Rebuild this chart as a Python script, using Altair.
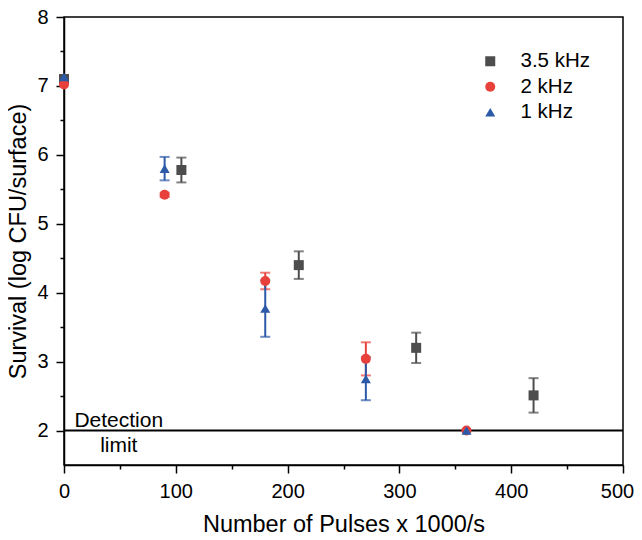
import altair as alt
import pandas as pd

series_names = ["3.5 kHz", "2 kHz", "1 kHz"]
colors = ["#4d4d4d", "#e8403b", "#2c5aa8"]
shapes = ["square", "circle", "triangle-up"]
marker_sizes = [100, 100, 135]

x_35 = [0, 105, 210, 315, 420]
y_35 = [7.1, 5.78, 4.40, 3.20, 2.51]
e_35 = [0.0, 0.18, 0.20, 0.22, 0.25]

x_2 = [0, 90, 180, 270, 360]
y_2 = [7.02, 5.42, 4.17, 3.04, 2.0]
e_2 = [0.0, 0.03, 0.12, 0.24, 0.0]

x_1 = [0, 90, 180, 270, 360]
y_1 = [7.13, 5.80, 3.77, 2.75, 2.0]
e_1 = [0.0, 0.17, 0.41, 0.31, 0.0]

rows = []
for name, xs, ys, es in [(series_names[0], x_35, y_35, e_35),
                         (series_names[1], x_2, y_2, e_2),
                         (series_names[2], x_1, y_1, e_1)]:
    for x, y, e in zip(xs, ys, es):
        rows.append({"series": name, "order": series_names.index(name),
                     "x": x, "y": y, "lo": y - e, "hi": y + e})
df = pd.DataFrame(rows)

FONT = "Liberation Sans"

xscale = alt.Scale(domain=[0, 500], nice=False)
yscale = alt.Scale(domain=[1.5, 8], nice=False, zero=False)

x_ticks = list(range(0, 501, 50))
y_ticks = [2 + 0.5 * i for i in range(13)]

common = dict(grid=False, domainColor="black", tickColor="black",
              domainWidth=1.5, tickWidth=1.5, labelFontSize=20, titleFontSize=23.5,
              labelColor="black", titleColor="black", labelFont=FONT, titleFont=FONT,
              titleFontWeight="normal", labelPadding=8, labelFlush=False)

xaxis = alt.Axis(title="Number of Pulses x 1000/s", values=x_ticks,
                 labelExpr="datum.value % 100 === 0 ? format(datum.value, 'd') : ''",
                 tickSize=alt.expr("datum.value % 100 === 0 ? 8 : 4"),
                 labelOffset=alt.expr("datum.value === 500 ? -6 : 0"),
                 titlePadding=11, **common)
yaxis = alt.Axis(title="Survival (log CFU/surface)", values=y_ticks,
                 labelExpr="datum.value % 1 === 0 ? format(datum.value, 'd') : ''",
                 tickSize=alt.expr("datum.value % 1 === 0 ? 8 : 4"),
                 titlePadding=6, **common)

X = lambda f: alt.X(f, scale=xscale, axis=xaxis)
Y = lambda f: alt.Y(f, scale=yscale, axis=yaxis)

color_scale = alt.Scale(domain=series_names, range=colors)
shape_scale = alt.Scale(domain=series_names, range=shapes)
size_scale = alt.Scale(domain=series_names, range=marker_sizes)

limit_df = pd.DataFrame({"x": [0], "x2": [500], "y": [2.0]})
limit = alt.Chart(limit_df).mark_rule(color="black", strokeWidth=2).encode(
    x=X("x:Q"), x2="x2:Q", y=Y("y:Q")
)
text_df = pd.DataFrame({"x": [49, 49], "y": [2.14, 1.77], "t": ["Detection", "limit"]})
texts = alt.Chart(text_df).mark_text(fontSize=21, font=FONT, color="black").encode(
    x=X("x:Q"), y=Y("y:Q"), text="t:N",
)

layers = [limit, texts]
for name, c in zip(series_names, colors):
    sub = df[(df["series"] == name) & (df["hi"] > df["lo"])]
    layers.append(alt.Chart(sub).mark_rule(strokeWidth=2, color=c).encode(
        x=X("x:Q"), y=Y("lo:Q"), y2="hi:Q"))
    layers.append(alt.Chart(sub).mark_tick(thickness=2, size=10, orient="horizontal", color=c).encode(
        x=X("x:Q"), y=Y("lo:Q")))
    layers.append(alt.Chart(sub).mark_tick(thickness=2, size=10, orient="horizontal", color=c).encode(
        x=X("x:Q"), y=Y("hi:Q")))

leg = alt.Legend(title=None, orient="none", legendX=416, legendY=34,
                 labelFontSize=20.5, labelFont=FONT, labelColor="black",
                 symbolStrokeWidth=0, rowPadding=4.5,
                 labelOffset=20, symbolOpacity=1)

points = alt.Chart(df).mark_point(filled=True, opacity=1).encode(
    x=X("x:Q"), y=Y("y:Q"),
    color=alt.Color("series:N", scale=color_scale, legend=leg),
    shape=alt.Shape("series:N", scale=shape_scale, legend=leg),
    size=alt.Size("series:N", scale=size_scale, legend=leg),
    order="order:Q",
)
layers.append(points)

chart = alt.layer(*layers).properties(
    width=559, height=448,
    background="white",
    autosize=alt.AutoSizeParams(type="none"),
    padding={"left": 56, "top": 9, "right": 11, "bottom": 67},
).configure_view(stroke="black", strokeWidth=1.5)

chart.save("out.html", embed_options={"renderer": "svg", "actions": False})
